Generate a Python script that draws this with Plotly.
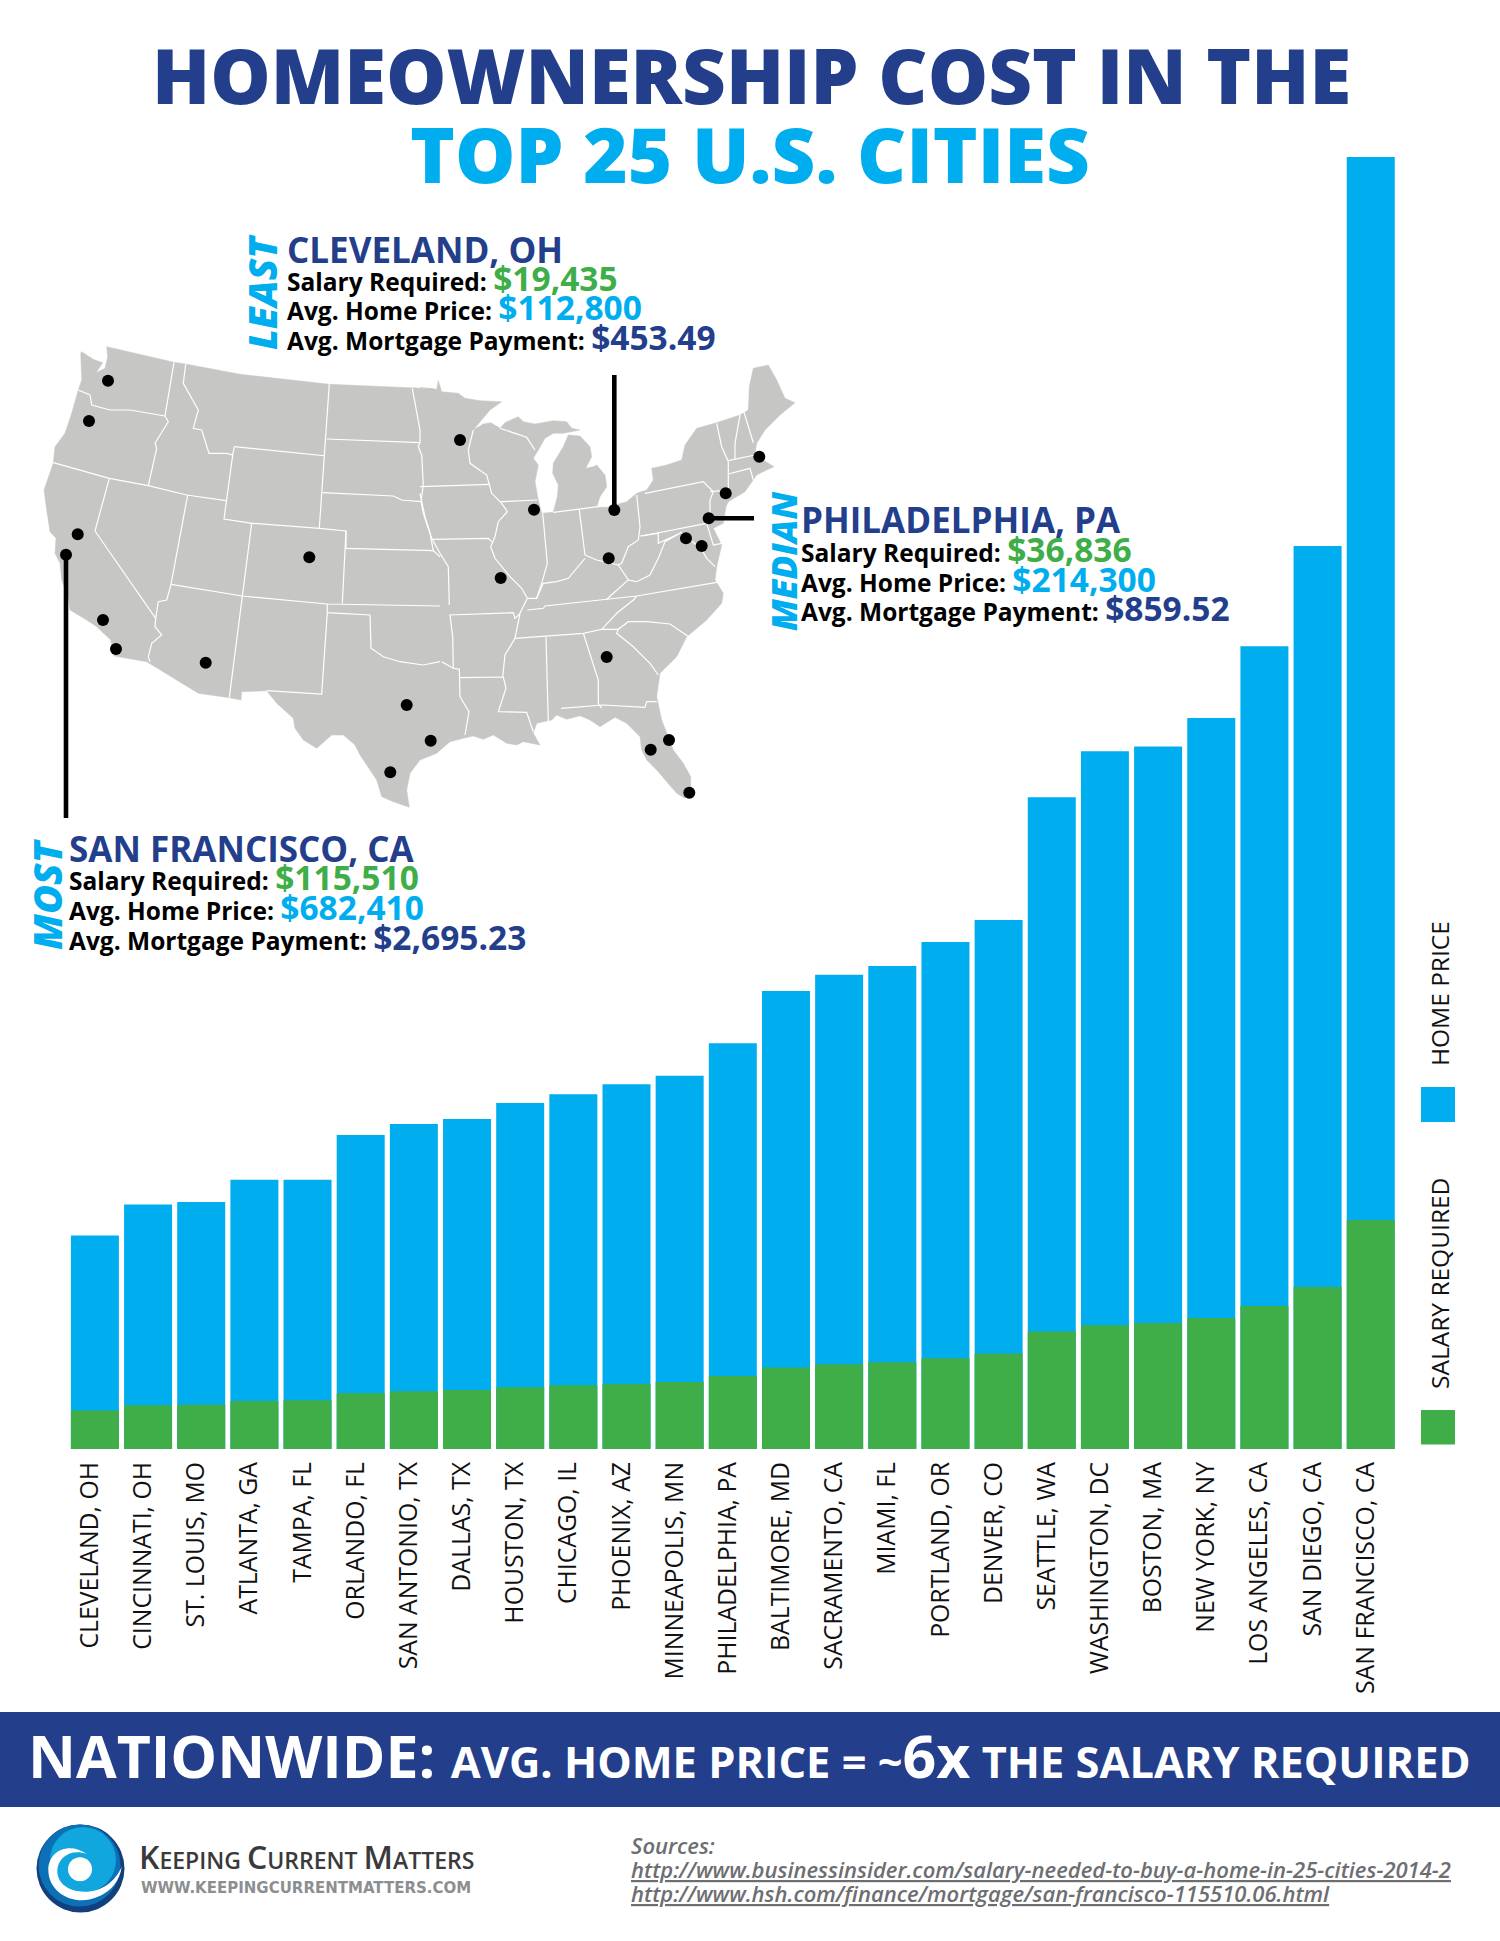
import plotly.graph_objects as go

W, H = 1500, 1941
NAVY = "#233e8b"
BLUE = "#00aeef"
GREEN = "#3fae49"
GRAY = "#c6c6c5"

# ---------- chart data ----------
cities = ["CLEVELAND, OH", "CINCINNATI, OH", "ST. LOUIS, MO", "ATLANTA, GA", "TAMPA, FL", "ORLANDO, FL",
          "SAN ANTONIO, TX", "DALLAS, TX", "HOUSTON, TX", "CHICAGO, IL", "PHOENIX, AZ", "MINNEAPOLIS, MN",
          "PHILADELPHIA, PA", "BALTIMORE, MD", "SACRAMENTO, CA", "MIAMI, FL", "PORTLAND, OR", "DENVER, CO",
          "SEATTLE, WA", "WASHINGTON, DC", "BOSTON, MA", "NEW YORK, NY", "LOS ANGELES, CA", "SAN DIEGO, CA",
          "SAN FRANCISCO, CA"]
home_price = [112800, 129100, 130500, 142200, 142200, 165800, 171700, 174300, 182800, 187400, 192600, 197200,
              214300, 241900, 250500, 255100, 267800, 279400, 344300, 368500, 371100, 386100, 424000, 477000,
              682410]
salary = [19435, 22040, 22350, 24200, 24560, 28100, 29100, 29760, 31120, 32130, 32790, 33800,
          36836, 41060, 42700, 43730, 45800, 48200, 59270, 62440, 63500, 66100, 72150, 81700,
          115510]
price_axis_max = 682410
salary_axis_max = 651700

# ---------- map, a schematic outline traced in page pixels ----------
map_cities = ["Seattle", "Portland", "Sacramento", "San Francisco", "Los Angeles", "San Diego", "Phoenix", "Denver",
              "Dallas", "Houston", "San Antonio", "Minneapolis", "Chicago", "St. Louis", "Cleveland", "Cincinnati",
              "Atlanta", "Tampa", "Orlando", "Miami", "Baltimore", "Washington", "Philadelphia", "New York", "Boston"]
map_city_x = [108, 89, 77.7, 66, 103, 116, 205.7, 309.3, 406.7, 430.7, 390.3, 460, 534, 500.7, 614.3, 608.7, 606.7,
              650.7, 669, 689.3, 686, 701.7, 708.7, 725.7, 759.3]
map_city_y = [380.7, 421, 534.3, 554.7, 620, 649, 662.7, 557.3, 705, 740.7, 772.3, 440, 509.7, 578, 510, 558.3, 657,
              749.7, 740, 792.7, 538.3, 546, 518.3, 493.3, 456.7]


def A(*pts):
    return [(40 + x / 3, 340 + y / 3) for x, y in pts]


def B(*pts):
    return [(420 + x / 3, 350 + y / 3) for x, y in pts]


def C(*pts):
    return [(270 + x / 3, 600 + y / 3) for x, y in pts]


outline = (
    A((125, 35), (160, 58), (188, 68), (168, 98), (195, 85), (203, 50), (200, 20), (402, 67), (437, 72), (600, 103),
      (868, 133), (1117, 145), (1180, 146))
    + B((0, 113), (50, 118), (55, 92), (65, 125), (115, 130), (135, 145), (180, 152), (245, 155), (210, 180),
        (180, 215), (160, 240), (190, 222), (213, 218), (240, 235), (255, 218), (295, 200), (310, 215), (345, 222),
        (400, 212), (440, 215), (455, 235), (480, 240), (430, 250), (400, 250), (375, 265), (355, 300), (340, 325),
        (355, 345), (345, 395), (355, 450), (365, 490), (400, 487), (412, 440), (415, 405), (398, 370), (400, 340),
        (430, 290), (445, 255), (480, 258), (510, 290), (515, 320), (497, 355), (520, 350), (530, 345), (555, 375),
        (560, 410), (540, 440), (530, 472), (560, 472), (620, 455), (650, 430), (680, 420), (700, 390), (695, 355),
        (740, 345), (785, 330), (795, 285), (830, 235), (890, 218), (960, 195), (985, 180), (988, 110), (1000, 55),
        (1045, 45), (1070, 90), (1095, 145), (1125, 158), (1080, 195), (1035, 240), (1010, 280), (1005, 310),
        (1030, 330), (1062, 350), (1040, 360), (1010, 375), (975, 425), (925, 455), (918, 470), (910, 520), (880, 535),
        (905, 585), (890, 650), (885, 690), (910, 730), (905, 760), (860, 810), (800, 860), (770, 920), (720, 970),
        (710, 1040), (725, 1110), (760, 1200))
    + C((1240, 490), (1262, 530), (1262, 570), (1245, 595), (1220, 580), (1190, 545), (1165, 515), (1130, 480),
        (1115, 450), (1110, 410), (1070, 370), (1035, 352), (990, 380), (960, 360), (930, 347), (890, 358), (860, 345),
        (845, 360), (800, 370), (790, 400), (810, 435), (760, 425), (740, 435), (710, 430), (670, 405), (640, 418),
        (610, 408), (580, 415), (540, 425), (500, 460), (450, 480), (420, 520), (410, 570), (418, 622), (370, 605),
        (335, 590), (320, 540), (270, 465), (255, 435), (220, 405), (185, 405), (140, 445), (100, 420), (75, 385),
        (70, 355), (20, 310))
    + A((680, 1052), (605, 1055), (603, 1080), (568, 1073), (475, 1060), (320, 965), (222, 948), (212, 900), (170, 860),
        (140, 840), (90, 810), (85, 770), (65, 720), (60, 670), (45, 640), (48, 595), (30, 575), (20, 510), (12, 450),
        (40, 370), (45, 320), (75, 280), (95, 220), (115, 150), (125, 120), (122, 40), (125, 35))
)

borders = [
    A((115, 150), (150, 165), (155, 195), (210, 210), (270, 210), (375, 228)),
    A((402, 67), (375, 228), (385, 245), (345, 310), (350, 325), (325, 437)),
    A((40, 368), (208, 415), (325, 437), (440, 465), (558, 482)),
    A((208, 415), (165, 573), (347, 835), (345, 860), (365, 885), (335, 910), (325, 950), (330, 965)),
    A((443, 465), (393, 733), (380, 780), (355, 785), (347, 835)),
    A((393, 733), (607, 768), (862, 792), (1200, 798)),
    A((578, 345), (558, 482), (552, 537), (635, 550), (607, 768), (568, 1073)),
    A((437, 72), (430, 130), (475, 210), (460, 265), (485, 270), (507, 340), (560, 340), (578, 345), (583, 320)),
    A((583, 320), (853, 347), (838, 565), (635, 550)),
    A((868, 133), (853, 347)),
    A((860, 297), (1140, 308)),
    A((1117, 145), (1125, 190), (1140, 270), (1140, 308), (1135, 320), (1145, 345), (1150, 435), (1143, 485)),
    A((848, 458), (1060, 468), (1085, 480), (1143, 485)),
    A((838, 565), (918, 573), (918, 625), (1180, 632)),
    A((918, 573), (907, 790)),
    A((1143, 485), (1150, 520), (1170, 580), (1180, 632), (1200, 650)),
    A((862, 792), (862, 818), (990, 825), (993, 925), (1030, 950), (1080, 965), (1150, 975), (1200, 965)),
    A((862, 818), (845, 1062), (680, 1052)),
    C((515, 185), (550, 205), (568, 208), (570, 290), (597, 335), (585, 405)),
    C((540, 45), (548, 110), (550, 205)),
    C((570, 233), (700, 231), (708, 265), (685, 335), (770, 337), (790, 395)),
    C((828, 112), (835, 365)),
    C((873, 325), (1000, 315), (1125, 322), (1130, 305), (1160, 305)),
    B((0, 410), (210, 403)),
    B((160, 240), (145, 300), (150, 340), (200, 375), (215, 430), (245, 460), (262, 485), (235, 515), (225, 560),
      (212, 590), (225, 625), (270, 680), (305, 715), (322, 745), (300, 790), (285, 865), (255, 915), (248, 980)),
    B((0, 430), (15, 500), (35, 565), (60, 610), (85, 650), (88, 765)),
    B((35, 568), (205, 565), (215, 575)),
    B((243, 455), (352, 450)),
    B((240, 235), (320, 262), (345, 300)),
    B((88, 795), (280, 788), (285, 805), (300, 790)),
    B((322, 780), (370, 775), (375, 768), (560, 748), (650, 738), (890, 697)),
    B((285, 865), (490, 850), (545, 838), (590, 790), (640, 750), (650, 738)),
    B((545, 838), (595, 838), (625, 815), (680, 815), (750, 822), (803, 858)),
    B((490, 850), (535, 990), (535, 1060), (545, 1075)),
    B((595, 838), (590, 850), (640, 890), (690, 940), (715, 975)),
    B((368, 490), (382, 640), (365, 700), (350, 745), (322, 745)),
    B((478, 480), (495, 615)),
    B((400, 487), (478, 478), (535, 470)),
    B((650, 435), (660, 530), (655, 570), (625, 590), (605, 640), (595, 645)),
    B((495, 615), (530, 630), (595, 645), (625, 690), (560, 748)),
    B((495, 625), (465, 660), (445, 685), (410, 695), (370, 700), (350, 745)),
    B((660, 558), (715, 550), (715, 580), (780, 550), (735, 575), (715, 625), (690, 675), (650, 695), (625, 690)),
    B((665, 558), (860, 520)),
    B((675, 430), (850, 395), (880, 425), (870, 450), (870, 490), (860, 520), (880, 585), (905, 580)),
    B((870, 425), (930, 420)),
    B((780, 545), (800, 565), (840, 590), (860, 625), (885, 650)),
    B((890, 220), (905, 290), (925, 335), (925, 415)),
    B((960, 195), (945, 280), (945, 330)),
    B((970, 180), (1000, 278)),
    B((925, 332), (1005, 315)),
    B((925, 372), (990, 355), (1000, 390)),
]
leaders = [[(614.3, 375), (614.3, 510)], [(66, 555), (66, 818)], [(708.7, 518.3), (754, 518.3)]]


def flat(lines):
    xs, ys = [], []
    for ln in lines:
        xs += [round(p[0], 1) for p in ln] + [None]
        ys += [round(p[1], 1) for p in ln] + [None]
    return xs, ys


def px(x):
    return x / W


def py(y):
    return 1 - y / H


fig = go.Figure()
fig.add_bar(x=cities, y=home_price, name="HOME PRICE", marker=dict(color=BLUE, line=dict(width=0)), yaxis="y")
fig.add_bar(x=cities, y=salary, name="SALARY REQUIRED", marker=dict(color=GREEN, line=dict(width=0)), yaxis="y2")

ox, oy = flat([outline])
fig.add_scatter(x=ox, y=oy, xaxis="x3", yaxis="y3", mode="lines", fill="toself", fillcolor=GRAY,
                line=dict(color=GRAY, width=0.5), hoverinfo="skip", name="Map")
bx, by = flat(borders)
fig.add_scatter(x=bx, y=by, xaxis="x3", yaxis="y3", mode="lines", line=dict(color="#ffffff", width=1.2),
                hoverinfo="skip", name="States")
lx, ly = flat(leaders)
fig.add_scatter(x=lx, y=ly, xaxis="x3", yaxis="y3", mode="lines", line=dict(color="#000000", width=4.6),
                hoverinfo="skip", name="Leaders")
fig.add_scatter(x=map_city_x, y=map_city_y, text=map_cities, xaxis="x3", yaxis="y3", mode="markers",
                marker=dict(color="#000000", size=12), name="Cities")

annotations = []


def ann(text, x, y, size, color="#000000", xanchor="left", yanchor="middle", angle=0, family="Open Sans", weight=None,
        italic=False):
    f = dict(family=family, size=size, color=color)
    if weight:
        f["weight"] = weight
    if italic:
        f["style"] = "italic"
    annotations.append(dict(text=text, x=px(x), y=py(y), xref="paper", yref="paper", showarrow=False, xanchor=xanchor,
                            yanchor=yanchor, textangle=angle, font=f, borderpad=0, borderwidth=0))


def val(t, c, s=33.5):
    return f'<span style="color:{c};font-size:{s}px">{t}</span>'


ann("HOMEOWNERSHIP COST IN THE", 751, 75, 76, NAVY, "center", weight=800)
ann("TOP 25 U.S. CITIES", 750, 153, 76, BLUE, "center", weight=800)


def block(head, x, y0, rows, s, h, m):
    ann(head, x, y0, 35, NAVY, weight=700)
    ann("Salary Required: " + val(s, GREEN), x, rows[0], 24.5, weight=700)
    ann("Avg. Home Price: " + val(h, BLUE), x, rows[1], 24.5, weight=700)
    ann("Avg. Mortgage Payment: " + val(m, NAVY), x, rows[2], 24.5, weight=700)


block("CLEVELAND, OH", 287, 249, (278, 307, 337), "$19,435", "$112,800", "$453.49")
block("PHILADELPHIA, PA", 801, 519, (549, 579, 608), "$36,836", "$214,300", "$859.52")
block("SAN FRANCISCO, CA", 69, 848, (877, 907, 937), "$115,510", "$682,410", "$2,695.23")
ann("LEAST", 262, 292, 39.5, BLUE, "center", "middle", -90, weight=800, italic=True)
ann("MEDIAN", 783, 562, 35, BLUE, "center", "middle", -90, weight=800, italic=True)
ann("MOST", 47, 894, 39.5, BLUE, "center", "middle", -90, weight=800, italic=True)

# legend
ann("HOME PRICE", 1439, 994, 24.5, "#111111", "center", "middle", -90)
ann("SALARY REQUIRED", 1439, 1284, 24.5, "#111111", "center", "middle", -90)

# banner
ann('NATIONWIDE: <span style="font-size:43.4px">AVG. HOME PRICE = ~</span>6x'
    '<span style="font-size:43.4px"> THE SALARY REQUIRED</span>', 28, 1755, 59, "#ffffff", weight=700)

# logo + sources
ann('<span style="font-size:32px">K</span>EEPING <span style="font-size:32px">C</span>URRENT '
    '<span style="font-size:32px">M</span>ATTERS', 139, 1856, 23, "#3a3a3c", weight=600, family="Open Sans")
ann("WWW.KEEPINGCURRENTMATTERS.COM", 141, 1888, 15, "#8c8e91", family="DejaVu Sans", weight=700)
ann("Sources:", 631, 1845, 22, "#6d6e71", weight=600, italic=True)
ann("<u>http://www.businessinsider.com/salary-needed-to-buy-a-home-in-25-cities-2014-2</u>", 631, 1869, 22, "#6d6e71",
    weight=600, italic=True)
ann("<u>http://www.hsh.com/finance/mortgage/san-francisco-115510.06.html</u>", 631, 1893, 22, "#6d6e71", weight=600,
    italic=True)

shapes = []


def rect(x0, y0, x1, y1, color):
    shapes.append(dict(type="rect", xref="paper", yref="paper", x0=px(x0), x1=px(x1), y0=py(y0), y1=py(y1),
                       fillcolor=color, line=dict(width=0), layer="below"))


def circle(cx, cy, r, color):
    shapes.append(dict(type="circle", xref="paper", yref="paper", x0=px(cx - r), x1=px(cx + r), y0=py(cy - r),
                       y1=py(cy + r), fillcolor=color, line=dict(width=0), layer="below"))


rect(0, 1712, 1500, 1807, NAVY)
rect(1421, 1087, 1455, 1122, BLUE)
rect(1421, 1410, 1455, 1444.5, GREEN)

# logo swirl
circle(80.5, 1868.5, 44, "#123f7e")
circle(79.5, 1865.5, 41, "#0b70b5")
circle(83, 1860, 33, "#12a6de")


def zp(a, b):
    return f"{px(20 + a / 3):.5f},{py(1810 + b / 3):.5f}"


swirl = ("M" + zp(200, 132) + " C" + zp(150, 95) + " " + zp(85, 120) + " " + zp(85, 180) + " C" + zp(85, 250) + " "
         + zp(165, 290) + " " + zp(230, 262) + " C" + zp(275, 245) + " " + zp(300, 210) + " " + zp(305, 170)
         + " C" + zp(285, 215) + " " + zp(245, 245) + " " + zp(195, 245) + " C" + zp(140, 245) + " " + zp(110, 215)
         + " " + zp(112, 180) + " C" + zp(115, 140) + " " + zp(155, 115) + " " + zp(200, 132) + " Z")
shapes.append(dict(type="path", xref="paper", yref="paper", path=swirl, fillcolor="#ffffff", line=dict(width=0),
                   layer="below"))
circle(20 + 180 / 3, 1810 + 178 / 3, 12, "#ffffff")

# plot-area geometry
bar0, pitch = 94.9, 53.16
base_y, top_y = 1449, 157

fig.update_layout(
    width=W, height=H, autosize=False, margin=dict(l=0, r=0, t=0, b=0), paper_bgcolor="#ffffff",
    plot_bgcolor="rgba(0,0,0,0)", showlegend=False, barmode="overlay", bargap=0.097,
    font=dict(family="Open Sans"),
    xaxis=dict(domain=[px(bar0 - pitch / 2), px(bar0 + 24.5 * pitch)], type="category", categoryorder="array",
               categoryarray=cities, range=[-0.5, 24.5], tickangle=-90, showgrid=False, showline=False, ticks="",
               zeroline=False, tickfont=dict(family="Open Sans", size=24.8, color="#111111"), ticklabelstandoff=7,
               ticklabelshift=-5, anchor="y"),
    yaxis=dict(domain=[py(base_y), py(top_y)], range=[0, price_axis_max], visible=False, showgrid=False, zeroline=False),
    yaxis2=dict(domain=[py(base_y), py(top_y)], range=[0, salary_axis_max], visible=False, overlaying="y",
                showgrid=False, zeroline=False),
    xaxis3=dict(domain=[0, 1], range=[0, W], visible=False, anchor="y3", fixedrange=True),
    yaxis3=dict(domain=[0, 1], range=[H, 0], visible=False, anchor="x3", fixedrange=True),
    annotations=annotations, shapes=shapes,
)

fig.write_html("out.html", config=dict(displayModeBar=False),
               post_script="document.body.style.margin='0';document.documentElement.style.overflow='hidden';")
